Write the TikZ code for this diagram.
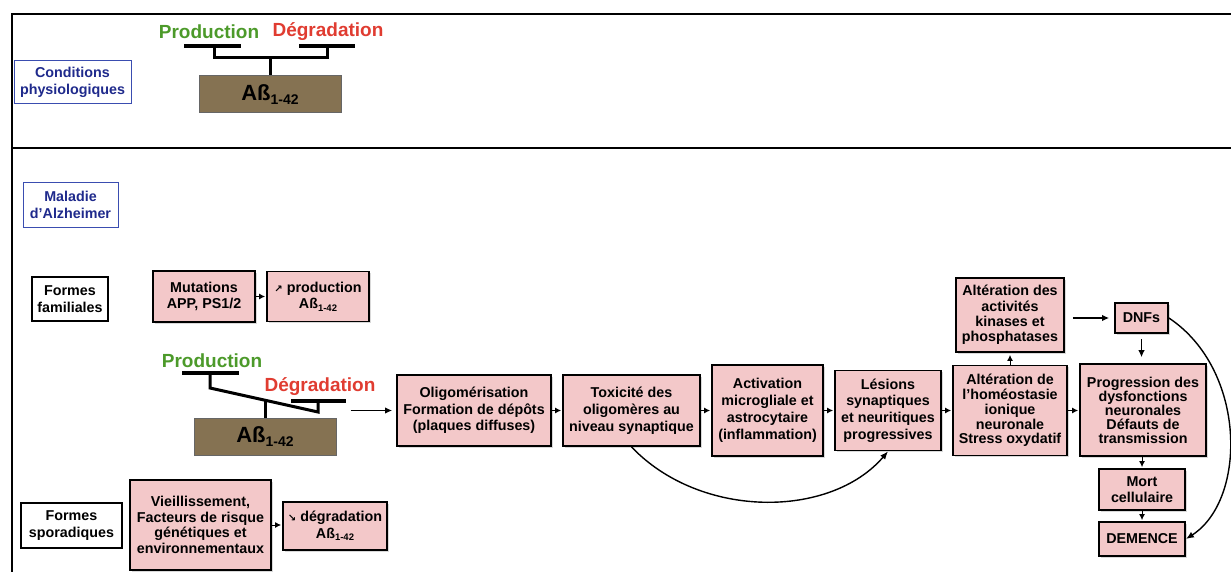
\documentclass[tikz,border=0pt]{standalone}
\usepackage{fontspec}
\setmainfont{Liberation Sans}
\newfontfamily\dejavu{DejaVu Sans}
\usetikzlibrary{arrows.meta,shadows}
\definecolor{pinkf}{HTML}{F3C8C9}
\definecolor{brownf}{HTML}{857252}
\definecolor{prodgreen}{HTML}{4C9A2A}
\definecolor{degred}{HTML}{E03C31}
\definecolor{navytext}{HTML}{1F2A8C}
\definecolor{blueline}{HTML}{3A4DB0}
\newcommand\subt[1]{\raisebox{-0.3ex}{\fontsize{9.5}{9.5}\selectfont #1}}
\newcommand\bigsub[1]{\raisebox{-0.35ex}{\fontsize{14}{14}\selectfont #1}}
\newcommand\upar{{\dejavu\fontsize{10}{10}\selectfont ↗}}
\newcommand\dnar{{\dejavu\fontsize{10}{10}\selectfont ↘}}
\begin{document}
\begin{tikzpicture}[x=1pt,y=-1pt,
  txt/.style={font=\bfseries\fontsize{14.3}{16.5}\selectfont},
  box/.style={txt, draw=black, line width=1.8pt, fill=pinkf, align=center, inner sep=1pt,
     drop shadow={shadow xshift=1.5pt,shadow yshift=-1.5pt,opacity=0.3}},
  abbox/.style={draw=black!60, line width=1pt, fill=brownf, inner sep=0pt,
     font=\bfseries\fontsize{22}{22}\selectfont},
  lblblue/.style={txt, draw=blueline, line width=1pt, fill=white, text=navytext, align=center, inner sep=1pt},
  lblblack/.style={txt, draw=black, line width=1.3pt, fill=white, align=center, inner sep=1pt,
     drop shadow={shadow xshift=1pt,shadow yshift=-1pt,opacity=0.25}},
  biglbl/.style={font=\bfseries\fontsize{19}{19}\selectfont},
  bar/.style={line width=4.5pt},
  lever/.style={line width=3pt},
  arr/.style={line width=1pt, -{Latex[length=6pt,width=6pt]}, shorten >=1pt},
  arrL/.style={line width=1.3pt, -{Latex[length=7pt,width=6.5pt]}},
  arrC/.style={line width=1.4pt, -{Latex[length=8pt,width=6.5pt]}},
  frame/.style={line width=2.5pt}
]
\path[use as bounding box] (0,0) rectangle (1231,572);
% frame
\draw[frame] (1231,14) -- (12,14) -- (12,572);
\draw[frame] (12,148) -- (1231,148);

% ---- top panel
\node[lblblue, minimum width=117pt, minimum height=43pt] (cond) at (72.5,82.5) {Conditions\\physiologiques};
\node[biglbl, text=prodgreen] (prodtop) at (209,32) {Production};
\node[biglbl, text=degred] (degtop) at (328,32) {Dégradation};
\node[abbox, minimum width=142pt, minimum height=37pt] (abtop) at (270,94.5) {Aß\bigsub{1-42}};
\draw[bar] (184,46) -- (241,46);
\draw[bar] (299,46) -- (355,46);
\draw[lever] (214,46) -- (214,58) -- (327,58) -- (327,46);
\draw[lever] (270,58) -- (abtop.north);

% ---- bottom panel
\node[lblblue, minimum width=95pt, minimum height=44pt] (maladie) at (70.5,205) {Maladie\\d’Alzheimer};
\node[lblblack, minimum width=76pt, minimum height=44pt] (famil) at (70,299) {Formes\\familiales};
\node[box, minimum width=102pt, minimum height=51pt] (mut) at (204,296.5) {Mutations\\APP, PS1/2};
\node[box, minimum width=102pt, minimum height=50pt] (produp) at (318,296.5) {\upar{} production\\Aß\subt{1-42}};

\node[biglbl, text=prodgreen] (prodlow) at (212,361) {Production};
\node[biglbl, text=degred] (deglow) at (320,387) {Dégradation};
\node[abbox, minimum width=142pt, minimum height=37pt] (ablow) at (265,436.5) {Aß\bigsub{1-42}};
\draw[bar] (182,373) -- (239,373);
\draw[lever] (210,373) -- (210,388) -- (318,412) -- (318,401);
\draw[bar] (291,401) -- (346,401);
\draw[lever] (265,400) -- (ablow.north);

\node[box, minimum width=154pt, minimum height=71pt] (oligo) at (474,410.5) {Oligomérisation\\Formation de dépôts\\(plaques diffuses)};
\node[box, minimum width=137pt, minimum height=71pt, font=\bfseries\fontsize{14.3}{17}\selectfont] (toxi) at (631.5,410.5) {Toxicité des\\oligomères au\\niveau synaptique};
\node[box, minimum width=111pt, minimum height=91pt, font=\bfseries\fontsize{14.3}{17}\selectfont] (activ) at (767.5,410.5) {Activation\\microgliale et\\astrocytaire\\(inflammation)};
\node[box, minimum width=106pt, minimum height=80pt, font=\bfseries\fontsize{14.3}{16.7}\selectfont] (lesion) at (888,410.5) {Lésions\\synaptiques\\et neuritiques\\progressives};
\node[box, minimum width=114pt, minimum height=90pt, font=\bfseries\fontsize{14.3}{14.8}\selectfont] (homeo) at (1010,410.5) {Altération de\\l’homéostasie\\ionique\\neuronale\\Stress oxydatif};
\node[box, minimum width=108pt, minimum height=74pt, font=\bfseries\fontsize{14.3}{15.3}\selectfont] (kinase) at (1010,315) {Altération des\\activités\\kinases et\\phosphatases};
\node[box, minimum width=53pt, minimum height=30pt] (dnf) at (1141.5,318) {DNFs};
\node[box, minimum width=126pt, minimum height=92pt, font=\bfseries\fontsize{14.3}{14}\selectfont] (progr) at (1143,410) {Progression des\\dysfonctions\\neuronales\\Défauts de\\transmission};
\node[box, minimum width=86pt, minimum height=41pt] (mort) at (1142,489.5) {Mort\\cellulaire};
\node[box, minimum width=86pt, minimum height=34pt] (demence) at (1142,539) {DEMENCE};

\node[lblblack, minimum width=101pt, minimum height=45pt] (sporad) at (71.5,525.5) {Formes\\sporadiques};
\node[box, minimum width=141pt, minimum height=90pt, font=\bfseries\fontsize{14.3}{15.5}\selectfont] (vieil) at (200.5,525) {Vieillissement,\\Facteurs de risque\\génétiques et\\environnementaux};
\node[box, minimum width=104pt, minimum height=48pt] (degdown) at (335,526) {\dnar{} dégradation\\Aß\subt{1-42}};

% ---- arrows
\draw[arr] (mut.east) -- (mut.east -| produp.west);
\draw[arr] (vieil.east) -- (vieil.east -| degdown.west);
\draw[arrL, shorten <=14pt, shorten >=4pt] (ablow.east |- oligo.west) -- (oligo.west);
\draw[arr] (oligo) -- (toxi);
\draw[arr] (toxi) -- (activ);
\draw[arr] (activ) -- (lesion);
\draw[arr] (lesion) -- (homeo);
\draw[arr] (homeo) -- (homeo -| progr.west);
\draw[arr, shorten >=2pt] (homeo) -- (kinase);
\draw[arrL, shorten <=8pt, shorten >=5pt] (kinase.east |- dnf.west) -- (dnf.west);
\draw[arrL, line width=1pt, shorten <=5pt, shorten >=6pt] (dnf.south) -- (dnf.south |- progr.north);
\draw[arr] (progr.south -| mort.north) -- (mort.north);
\draw[arr] (mort) -- (demence);
\draw[arrC] (toxi.south) .. controls (700,519) and (830,519) .. (lesion.south);
\draw[arrC] (dnf.east) .. controls (1247,370) and (1247,500) .. (demence.east);
\end{tikzpicture}
\end{document}
